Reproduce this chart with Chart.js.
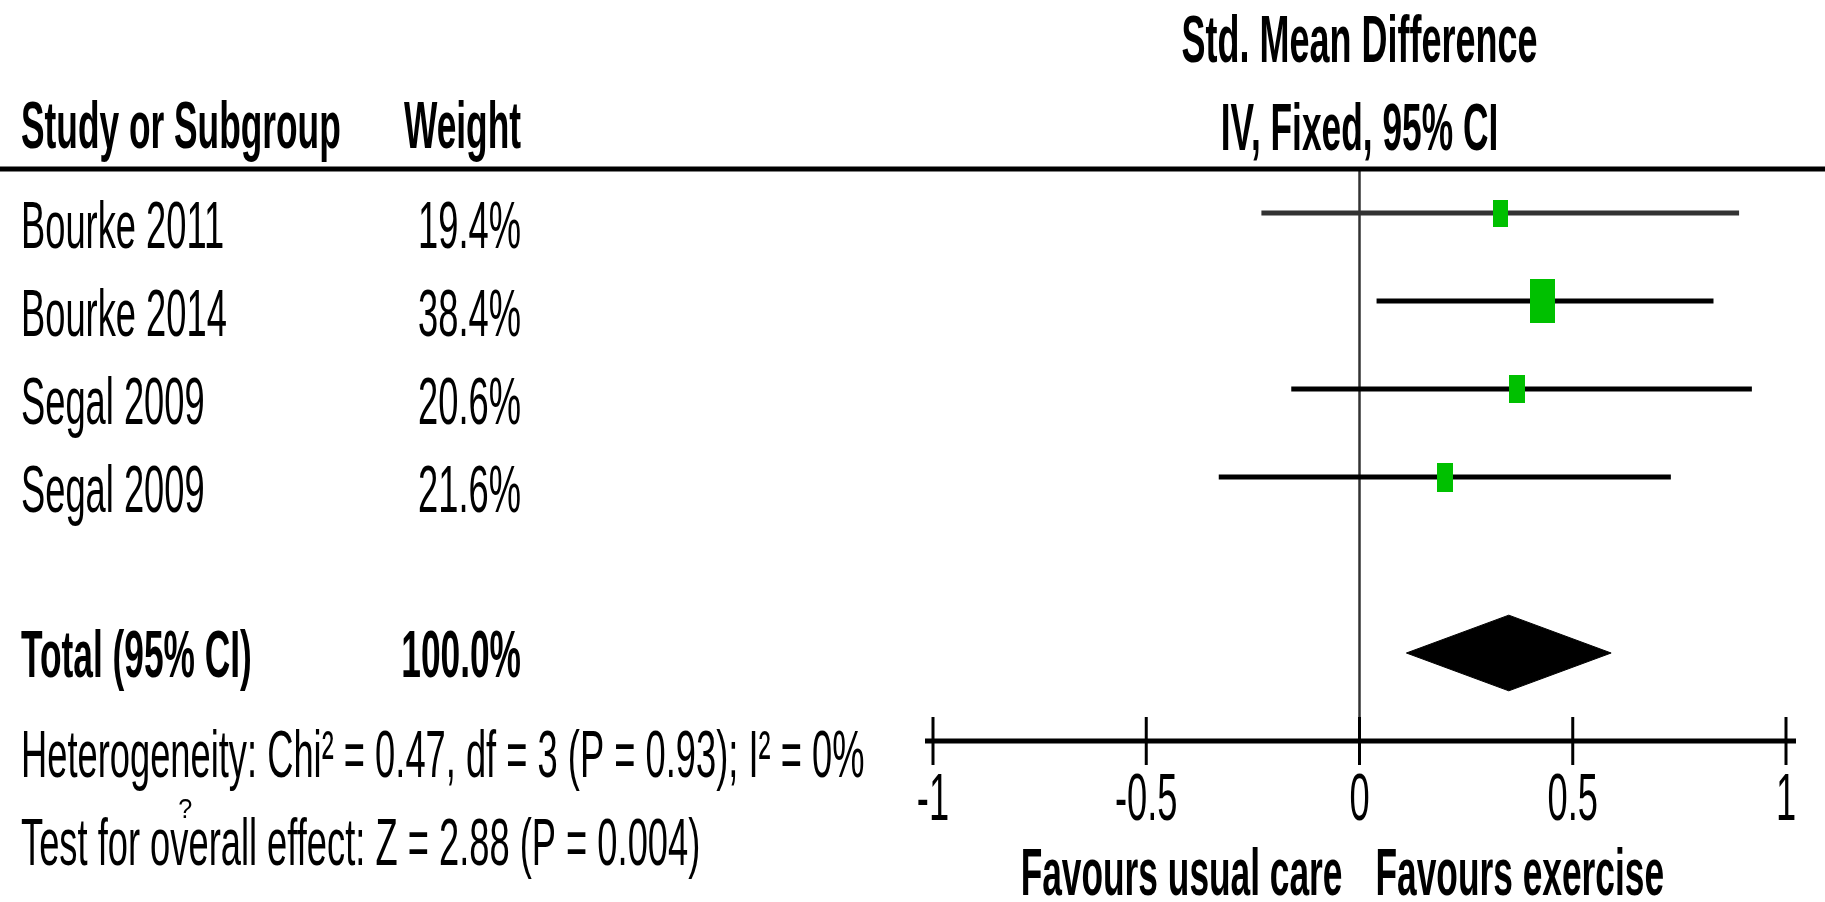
<!DOCTYPE html>
<html>
<head>
<meta charset="utf-8">
<script src="https://cdn.jsdelivr.net/npm/chart.js@4.4.1/dist/chart.umd.min.js"></script>
<style>
  html, body { margin: 0; padding: 0; background: #fff; }
  #forest { display: block; }
</style>
</head>
<body>
<canvas id="forest" width="1825" height="902"></canvas>
<script>
// study rows
const studies = ['Bourke 2011', 'Bourke 2014', 'Segal 2009', 'Segal 2009'];
const weights = [19.4, 38.4, 20.6, 21.6];
const smd = [0.33, 0.43, 0.37, 0.20];
const ciLow = [-0.23, 0.04, -0.16, -0.33];
const ciHigh = [0.89, 0.83, 0.92, 0.73];
const rowPos = [0, 1, 2, 3];

// pooled estimate
const totalLabel = 'Total (95% CI)';
const totalWeight = '100.0%';
const totalPos = 5;
const totalSmd = 0.35;
const totalLow = 0.11;
const totalHigh = 0.59;

const tickValues = [-1, -0.5, 0, 0.5, 1];
const tickLabels = ['-1', '-0.5', '0', '0.5', '1'];

const heterogeneity = 'Heterogeneity: Chi\u00b2 = 0.47, df = 3 (P = 0.93); I\u00b2 = 0%';
const overallTest = 'Test for overall effect: Z = 2.88 (P = 0.004)';

const FONT = '"Liberation Sans", Arial, sans-serif';
const GREEN = '#00c000';
const ciColors = ['#333333', '#000000', '#000000', '#000000'];

// little green boxes, sized by weight
function makeBox(w) {
  const h = Math.round(0.9 * w + 9.5);
  const c = document.createElement('canvas');
  c.width = Math.round(h * 0.56);
  c.height = h;
  const g = c.getContext('2d');
  g.fillStyle = GREEN;
  g.fillRect(0, 0, c.width, c.height);
  return c;
}
const boxes = weights.map(makeBox);

function txt(ctx, s, x, y, opts) {
  const o = Object.assign({ bold: false, align: 'left', size: 66, color: '#000' }, opts);
  const sx = o.sx || (o.bold ? 0.535 : 0.55);
  ctx.save();
  ctx.font = (o.bold ? 'bold ' : '') + o.size + 'px ' + FONT;
  ctx.fillStyle = o.color;
  ctx.textAlign = o.align;
  ctx.textBaseline = 'alphabetic';
  ctx.translate(x, y);
  ctx.scale(sx, 1);
  ctx.fillText(s, 0, 0);
  ctx.restore();
}

const forestDecor = {
  id: 'forestDecor',
  beforeDatasetsDraw(chart) {
    const ctx = chart.ctx;
    const xs = chart.scales.x;
    const area = chart.chartArea;
    // line of no effect
    ctx.save();
    ctx.strokeStyle = '#333';
    ctx.lineWidth = 2.5;
    ctx.beginPath();
    ctx.moveTo(xs.getPixelForValue(0), area.top);
    ctx.lineTo(xs.getPixelForValue(0), area.bottom);
    ctx.stroke();
    ctx.restore();
  },
  afterDraw(chart) {
    const ctx = chart.ctx;
    const xs = chart.scales.x;
    const ys = chart.scales.y;
    const area = chart.chartArea;
    const W = chart.width;
    const zeroX = xs.getPixelForValue(0);

    // header rule
    ctx.save();
    ctx.fillStyle = '#000';
    ctx.fillRect(0, area.top - 2.5, W, 5);

    // x axis with ticks crossing the line
    ctx.fillRect(xs.getPixelForValue(-1) - 8, area.bottom - 2.5, xs.getPixelForValue(1) - xs.getPixelForValue(-1) + 18, 5);
    ctx.strokeStyle = '#000';
    ctx.lineWidth = 3;
    tickValues.forEach((v, i) => {
      const px = xs.getPixelForValue(v);
      ctx.beginPath();
      ctx.moveTo(px, area.bottom - 24);
      ctx.lineTo(px, area.bottom + 24);
      ctx.stroke();
      txt(ctx, tickLabels[i], px, area.bottom + 79, { align: 'center' });
    });
    ctx.restore();

    // headers
    txt(ctx, 'Std. Mean Difference', zeroX, 62, { bold: true, align: 'center', sx: 0.545 });
    txt(ctx, 'IV, Fixed, 95% CI', zeroX, 150, { bold: true, align: 'center' });
    txt(ctx, 'Study or Subgroup', 21, 148, { bold: true });
    txt(ctx, 'Weight', 521, 148, { bold: true, align: 'right' });

    // study rows
    studies.forEach((name, i) => {
      const py = ys.getPixelForValue(rowPos[i]);
      txt(ctx, name, 21, py + 35);
      txt(ctx, weights[i].toFixed(1) + '%', 521, py + 35, { align: 'right' });
    });

    const ty = ys.getPixelForValue(totalPos);
    txt(ctx, totalLabel, 21, ty + 24, { bold: true });
    txt(ctx, totalWeight, 521, ty + 24, { bold: true, align: 'right' });

    txt(ctx, heterogeneity, 21, 777);
    txt(ctx, overallTest, 21, 865);
    // stray glyph sitting over the "ov" of "overall"
    ctx.save();
    ctx.font = '66px ' + FONT;
    const pre = ctx.measureText('Test for o').width * 0.55;
    ctx.restore();
    txt(ctx, '?', 21 + pre + 15, 818, { size: 28, align: 'center', sx: 0.9 });

    // direction labels
    txt(ctx, 'Favours usual care', zeroX - 17, 895, { bold: true, align: 'right' });
    txt(ctx, 'Favours exercise', zeroX + 16, 895, { bold: true });
  }
};

const ciSets = studies.map((s, i) => ({
  type: 'line',
  label: s,
  data: [{ x: ciLow[i], y: rowPos[i] }, { x: ciHigh[i], y: rowPos[i] }],
  borderColor: ciColors[i],
  borderWidth: 5,
  borderCapStyle: 'butt',
  pointRadius: 0,
  fill: false,
  clip: false,
  order: 2
}));

const dh = 0.43; // half height of the pooled diamond, in row units
const diamondSet = {
  type: 'line',
  label: 'Total',
  data: [
    { x: totalLow, y: totalPos },
    { x: totalSmd, y: totalPos - dh },
    { x: totalHigh, y: totalPos },
    { x: totalSmd, y: totalPos + dh },
    { x: totalLow, y: totalPos }
  ],
  borderColor: '#000',
  backgroundColor: '#000',
  borderWidth: 1,
  pointRadius: 0,
  tension: 0,
  fill: 'shape',
  clip: false,
  order: 2
};

const squareSet = {
  type: 'scatter',
  label: 'Std. Mean Difference',
  data: smd.map((v, i) => ({ x: v, y: rowPos[i] })),
  pointStyle: boxes,
  pointRadius: 10,
  clip: false,
  order: 0
};

new Chart(document.getElementById('forest'), {
  type: 'scatter',
  data: { datasets: [squareSet, ...ciSets, diamondSet] },
  options: {
    responsive: false,
    animation: false,
    devicePixelRatio: 1,
    layout: { padding: { left: 933, right: 39, top: 169, bottom: 161 } },
    scales: {
      x: { type: 'linear', min: -1, max: 1, display: false },
      y: { type: 'linear', min: -0.5, max: 6, reverse: true, display: false }
    },
    plugins: {
      legend: { display: false },
      tooltip: { enabled: false }
    }
  },
  plugins: [forestDecor]
});
</script>
</body>
</html>
